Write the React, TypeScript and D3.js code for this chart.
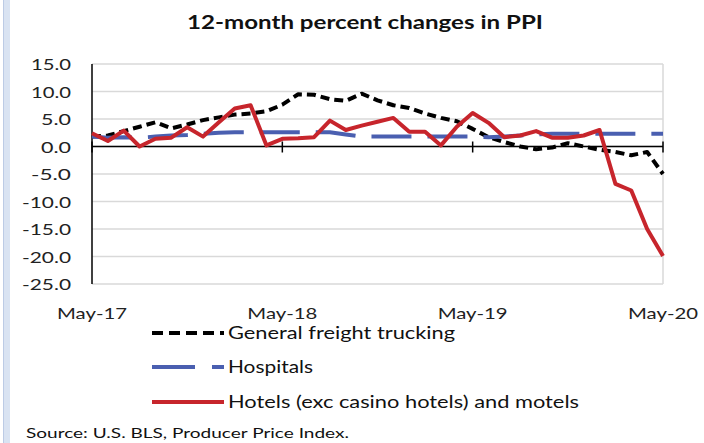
import React from "react";
import * as d3 from "d3";

const tickLabels = ["May-17", "May-18", "May-19", "May-20"];
const tickMonths = [0, 12, 24, 36];
const yTicks = [15, 10, 5, 0, -5, -10, -15, -20, -25];

const trucking = [1.8, 2.0, 2.8, 3.6, 4.4, 3.3, 4.0, 4.8, 5.3, 5.8, 6.0, 6.4, 7.6, 9.5, 9.4, 8.6, 8.3, 9.6, 8.4, 7.5, 7.0, 6.0, 5.2, 4.6, 3.2, 1.7, 0.8, 0.0, -0.5, -0.2, 0.6, 0.0, -0.6, -1.0, -1.6, -1.0, -5.0];
const hospitals = [1.8, 1.6, 1.7, 1.6, 1.8, 2.0, 2.1, 2.3, 2.5, 2.6, 2.6, 2.6, 2.6, 2.6, 2.6, 2.6, 2.2, 1.8, 1.8, 1.8, 1.8, 1.8, 1.8, 1.8, 1.8, 1.7, 1.8, 2.0, 2.2, 2.3, 2.3, 2.3, 2.3, 2.3, 2.3, 2.3, 2.3];
const hotels = [2.4, 1.0, 2.9, 0.0, 1.4, 1.6, 3.5, 1.8, 4.4, 6.9, 7.5, 0.2, 1.4, 1.5, 1.7, 4.7, 3.0, 3.8, 4.5, 5.2, 2.7, 2.7, 0.2, 3.6, 6.1, 4.3, 1.7, 2.0, 2.8, 1.6, 1.6, 2.0, 3.0, -6.8, -8.0, -15.0, -19.9];

const seriesNames = ["General freight trucking", "Hospitals", "Hotels (exc casino hotels) and motels"];

const FONT = "Lato, 'Open Sans', sans-serif";

export default function App() {
  const W = 704, H = 443;
  const x = d3.scaleLinear().domain([0, 36]).range([92, 663]);
  const y = d3.scaleLinear().domain([-25, 15]).range([284, 64]);
  const line = d3.line<number>().x((_, i) => x(i)).y((d) => y(d));

  const series = [
    { name: seriesNames[0], data: trucking, color: "#000000", width: 4, dash: "9 5" },
    { name: seriesNames[1], data: hospitals, color: "#4a5fb0", width: 4, dash: "40 16" },
    { name: seriesNames[2], data: hotels, color: "#c7252c", width: 4, dash: undefined as string | undefined },
  ];
  const legendDash = ["11 6", "43 17", undefined as string | undefined];
  const legendTextLen = [227, 85, 351];
  const legendY = [333, 367, 402];

  return (
    <div style={{ position: "fixed", left: 0, top: 0 }}>
      <svg width={W} height={H} style={{ display: "block", background: "#fff" }}>
        <rect x={3} y={0} width={7} height={H} fill="#d9e3f2" />
        <line x1={3.5} x2={3.5} y1={0} y2={H} stroke="#bccbe5" strokeWidth={1} />
        <text x={365} y={29} textAnchor="middle" fontFamily={FONT} fontWeight="bold" fontSize={18} fill="#111" textLength={356} lengthAdjust="spacingAndGlyphs">
          12-month percent changes in PPI
        </text>
        {yTicks.map((t) => (
          <line key={"g" + t} x1={x(0)} x2={x(36)} y1={y(t)} y2={y(t)} stroke="#d9d9d9" strokeWidth={1.5} />
        ))}
        <line x1={x(36)} x2={x(36)} y1={y(15)} y2={y(-25)} stroke="#d9d9d9" strokeWidth={1.5} />
        {yTicks.map((t) => (
          <text key={"t" + t} x={71} y={y(t) + 6} textAnchor="end" fontFamily={FONT} fontSize={16} fill="#222" textLength={t <= -10 ? 49 : t < 0 ? 40 : t >= 10 ? 40 : 30} lengthAdjust="spacingAndGlyphs">
            {t.toFixed(1)}
          </text>
        ))}
        <line x1={x(0)} x2={x(0)} y1={y(15)} y2={y(-25)} stroke="#000" strokeWidth={1.5} />
        <line x1={x(0)} x2={x(36)} y1={y(0)} y2={y(0)} stroke="#000" strokeWidth={1.5} />
        {tickMonths.map((m) => (
          <line key={"tk" + m} x1={x(m)} x2={x(m)} y1={y(0) - 5} y2={y(0) + 6} stroke="#000" strokeWidth={1.5} />
        ))}
        {tickMonths.map((m, i) => (
          <text key={"xl" + m} x={x(m)} y={319} textAnchor="middle" fontFamily={FONT} fontSize={16} fill="#222" textLength={70} lengthAdjust="spacingAndGlyphs">
            {tickLabels[i]}
          </text>
        ))}
        {series.map((s) => (
          <path key={s.name} d={line(s.data) || ""} fill="none" stroke={s.color} strokeWidth={s.width} strokeDasharray={s.dash} strokeLinejoin="round" />
        ))}
        {series.map((s, i) => (
          <g key={"lg" + i}>
            <line x1={152} x2={224} y1={legendY[i]} y2={legendY[i]} stroke={s.color} strokeWidth={s.width} strokeDasharray={legendDash[i]} />
            <text x={228} y={legendY[i] + 6} fontFamily={FONT} fontSize={17} fill="#111" textLength={legendTextLen[i]} lengthAdjust="spacingAndGlyphs">
              {s.name}
            </text>
          </g>
        ))}
        <text x={26} y={438} fontFamily={FONT} fontSize={14} fill="#111" textLength={323} lengthAdjust="spacingAndGlyphs">
          Source: U.S. BLS, Producer Price Index.
        </text>
      </svg>
    </div>
  );
}
